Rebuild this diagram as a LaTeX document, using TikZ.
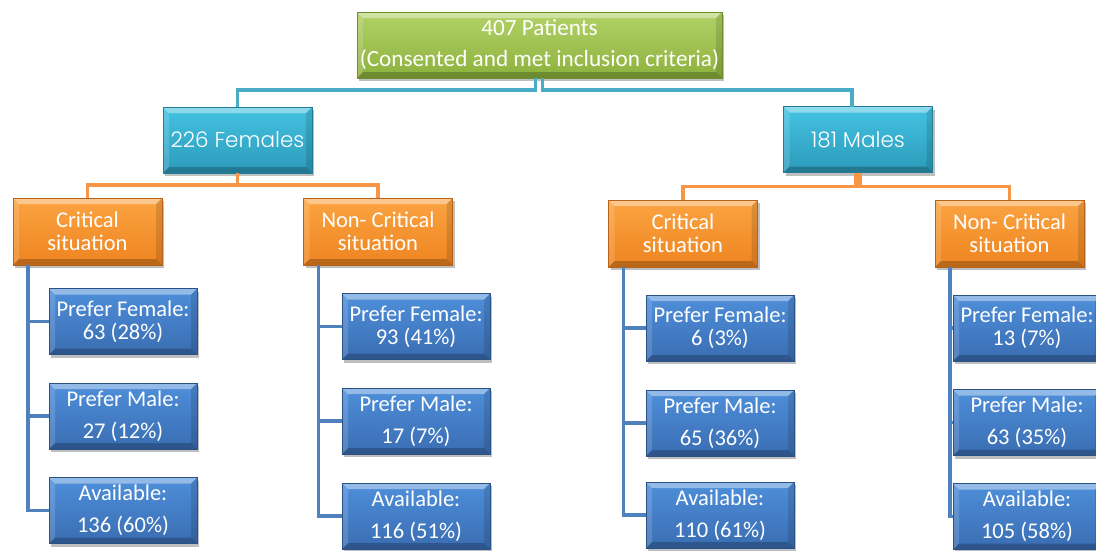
\documentclass[tikz,border=0pt]{standalone}
\usepackage{fontspec}
\setmainfont{Carlito}
\newfontfamily\gothic{Poppins}[UprightFont=* Light]
\usetikzlibrary{shadows}
\definecolor{gTop}{HTML}{B2D267}
\definecolor{gBot}{HTML}{8DB13D}
\definecolor{gEdge}{HTML}{6E8E30}
\definecolor{tTop}{HTML}{44C3E3}
\definecolor{tBot}{HTML}{2C9AB9}
\definecolor{tEdge}{HTML}{237C95}
\definecolor{oTop}{HTML}{FBA442}
\definecolor{oBot}{HTML}{EE8420}
\definecolor{oEdge}{HTML}{B8621A}
\definecolor{bTop}{HTML}{4E8FDA}
\definecolor{bBot}{HTML}{3A6DB2}
\definecolor{bEdge}{HTML}{2B5285}
\definecolor{tLine}{HTML}{4AACC5}
\definecolor{oLine}{HTML}{F79646}
\definecolor{bLine}{HTML}{4F81BD}
\tikzset{
  bevel/.style={path picture={
    \fill[white,opacity=.40] (path picture bounding box.north west) -- (path picture bounding box.north east)
      -- ([xshift=-6pt,yshift=-6pt]path picture bounding box.north east) -- ([xshift=6pt,yshift=-6pt]path picture bounding box.north west) -- cycle;
    \fill[white,opacity=.15] (path picture bounding box.north west) -- ([xshift=6pt,yshift=-6pt]path picture bounding box.north west)
      -- ([xshift=6pt,yshift=6pt]path picture bounding box.south west) -- (path picture bounding box.south west) -- cycle;
    \fill[black,opacity=.12] (path picture bounding box.north east) -- ([xshift=-6pt,yshift=-6pt]path picture bounding box.north east)
      -- ([xshift=-6pt,yshift=6pt]path picture bounding box.south east) -- (path picture bounding box.south east) -- cycle;
    \fill[black,opacity=.22] (path picture bounding box.south west) -- (path picture bounding box.south east)
      -- ([xshift=-6pt,yshift=6pt]path picture bounding box.south east) -- ([xshift=6pt,yshift=6pt]path picture bounding box.south west) -- cycle;
  }},
  basebox/.style={rectangle, inner sep=0pt, outer sep=0pt, text=white, align=center, line width=0.6pt,
    bevel, drop shadow={shadow xshift=2pt, shadow yshift=-3pt, opacity=.25, fill=black}},
  greenbox/.style={basebox, top color=gTop, bottom color=gBot, draw=gEdge,
    minimum width=365pt, minimum height=66pt, font=\fontsize{23.2}{31}\selectfont},
  tealbox/.style={basebox, top color=tTop, bottom color=tBot, draw=tEdge,
    minimum width=149pt, minimum height=66pt, font=\gothic\fontsize{21.5}{24}\selectfont},
  orangebox/.style={basebox, top color=oTop, bottom color=oBot, draw=oEdge,
    minimum width=149pt, minimum height=67pt, font=\fontsize{22.5}{23}\selectfont},
  bluebox/.style={basebox, top color=bTop, bottom color=bBot, draw=bEdge,
    minimum width=148pt, minimum height=66pt, font=\fontsize{22.5}{23}\selectfont},
  tealline/.style={draw=tLine, line width=3.8pt},
  orangeline/.style={draw=oLine, line width=3.8pt},
  blueline/.style={draw=bLine, line width=3.8pt},
}
\begin{document}
\begin{tikzpicture}[x=1pt,y=-1pt]
\useasboundingbox (0,0) rectangle (1096,550);
\clip (0,0) rectangle (1096,550);
\fill[white] (0,0) rectangle (1096,550);

% nodes
\node[greenbox] (top) at (539.5,45) {407 Patients\\(Consented and met inclusion criteria)};
\node[tealbox] (fem) at (237.5,140) {226 Females};
\node[tealbox] (mal) at (858,139.5) {181 Males};

\node[orangebox] (cf) at (87.5,231.5) {Critical\\situation};
\node[orangebox] (nf) at (378,231.5) {Non- Critical\\situation};
\node[orangebox] (cm) at (683,233.5) {Critical\\situation};
\node[orangebox] (nm) at (1009.5,233.5) {Non- Critical\\situation};

\node[bluebox] (cf1) at (123,321.5) {Prefer Female:\\63 (28\%)};
\node[bluebox] (cf2) at (123,416) {Prefer Male:\\[9pt]27 (12\%)};
\node[bluebox] (cf3) at (123,510.5) {Available:\\[9pt]136 (60\%)};

\node[bluebox] (nf1) at (416,326.5) {Prefer Female:\\93 (41\%)};
\node[bluebox] (nf2) at (416,421) {Prefer Male:\\[9pt]17 (7\%)};
\node[bluebox] (nf3) at (416,516) {Available:\\[9pt]116 (51\%)};

\node[bluebox] (cm1) at (720,328) {Prefer Female:\\6 (3\%)};
\node[bluebox] (cm2) at (720,423) {Prefer Male:\\[9pt]65 (36\%)};
\node[bluebox] (cm3) at (720,515) {Available:\\[9pt]110 (61\%)};

\node[bluebox] (nm1) at (1027,328) {Prefer Female:\\13 (7\%)};
\node[bluebox] (nm2) at (1027,422.5) {Prefer Male:\\[9pt]63 (35\%)};
\node[bluebox] (nm3) at (1027,516.5) {Available:\\[9pt]105 (58\%)};

% connectors
\draw[tealline] ([xshift=-4pt]top.south) -- ++(0,12) -| (fem.north);
\draw[tealline] ([xshift=3pt]top.south) -- ++(0,12) -| ([xshift=-6pt]mal.north);

\draw[orangeline] (fem.south) -- ++(0,12) -| (cf.north);
\draw[orangeline] (fem.south) -- ++(0,12) -| (nf.north);
\draw[orangeline] ([xshift=-2pt]mal.south) -- ++(0,14) -| (cm.north);
\draw[orangeline] ([xshift=2pt]mal.south) -- ++(0,14) -| (nm.north);

\foreach \p in {cf, nf, cm, nm}{
  \draw[blueline] ([xshift=15pt]\p.south west) |- (\p1.west);
  \draw[blueline] ([xshift=15pt]\p.south west) |- (\p2.west);
  \draw[blueline] ([xshift=15pt]\p.south west) |- (\p3.west);
}
\end{tikzpicture}
\end{document}
